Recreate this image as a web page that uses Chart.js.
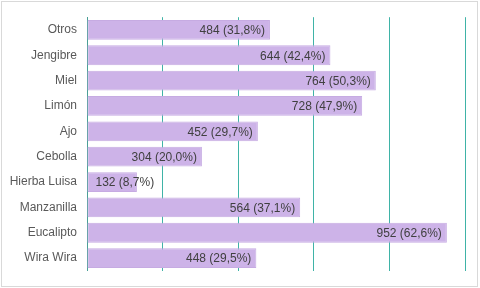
<!DOCTYPE html>
<html><head><meta charset="utf-8">
<script src="https://cdn.jsdelivr.net/npm/chart.js@4"></script>
<style>
html,body{margin:0;padding:0;background:#fff;}
canvas{display:block;}
</style></head><body>
<canvas id="c" width="480" height="288"></canvas>
<script>
const categories = ["Otros","Jengibre","Miel","Limón","Ajo","Cebolla","Hierba Luisa","Manzanilla","Eucalipto","Wira Wira"];
const values = [484,644,764,728,452,304,132,564,952,448];
const percents = ["31,8%","42,4%","50,3%","47,9%","29,7%","20,0%","8,7%","37,1%","62,6%","29,5%"];
const xTicks = [0,200,400,600,800,1000];

const FONT = "'Liberation Sans', Arial, sans-serif";
const labelPlugin = {
  id:'barLabels',
  beforeDraw(chart){
    const ctx = chart.ctx;
    ctx.save();
    ctx.strokeStyle = '#d9d9d9';
    ctx.lineWidth = 1;
    ctx.strokeRect(1.5,1.5,476,285);
    ctx.restore();
  },
  afterDatasetsDraw(chart){
    const ctx = chart.ctx;
    const meta = chart.getDatasetMeta(0);
    ctx.save();
    ctx.font = "12px " + FONT;
    ctx.fillStyle = "#404040";
    ctx.textBaseline = "middle";
    meta.data.forEach((bar,i)=>{
      const txt = values[i] + " (" + percents[i] + ")";
      const w = ctx.measureText(txt).width;
      if (w + 10 > bar.x - bar.base) {
        ctx.textAlign = "left";
        ctx.fillText(txt, bar.base + 8, bar.y + 1);
      } else {
        ctx.textAlign = "right";
        ctx.fillText(txt, bar.x - 5, bar.y + 1);
      }
    });
    ctx.restore();
  }
};

new Chart(document.getElementById('c'), {
  type:'bar',
  data:{labels:categories, datasets:[{data:values, backgroundColor:'#cdb3e8', borderColor:'#c6abe2', borderWidth:1, borderSkipped:false, barPercentage:0.78, categoryPercentage:1}]},
  options:{
    indexAxis:'y', responsive:false, animation:false,
    layout:{padding:{top:12,right:15,left:0,bottom:0}},
    plugins:{legend:{display:false}, tooltip:{enabled:false}},
    scales:{
      x:{min:0,max:1000, afterBuildTicks(s){s.ticks = xTicks.map(v=>({value:v}));},
        ticks:{display:false}, grid:{color:'#3fb3a7', drawTicks:false, lineWidth:1}, border:{display:false},
        afterFit(s){s.height = 13;}},
      y:{ticks:{color:'#595959', font:{family:FONT,size:12}, padding:10, autoSkip:false},
        grid:{display:false, drawTicks:false}, border:{color:'#4a9f97', width:1},
        afterFit(s){s.width = 87;}}
    }
  },
  plugins:[labelPlugin]
});
</script></body></html>
